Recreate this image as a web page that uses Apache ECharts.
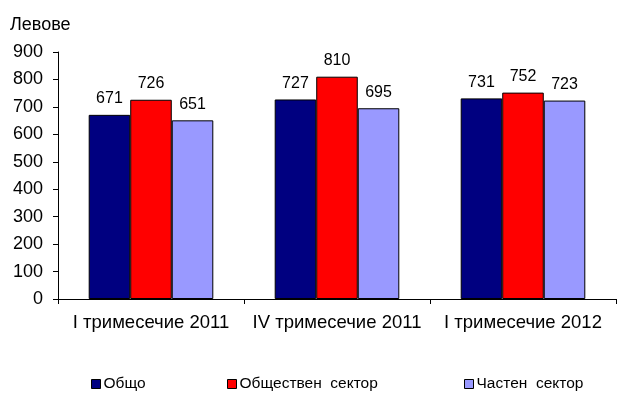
<!DOCTYPE html>
<html><head><meta charset="utf-8">
<script src="https://cdn.jsdelivr.net/npm/echarts@6/dist/echarts.min.js"></script>
<style>html,body{margin:0;padding:0;background:#fff}#c{width:617px;height:393px}</style>
</head><body><div id="c"></div>
<script>
const categories = ['I тримесечие 2011', 'IV тримесечие 2011', 'I тримесечие 2012'];
const seriesNames = ['Общо', 'Обществен  сектор', 'Частен  сектор'];
const total = [671, 727, 731];
const publicSector = [726, 810, 752];
const privateSector = [651, 695, 723];
const yTicks = [0, 100, 200, 300, 400, 500, 600, 700, 800, 900];
const colors = ['#000080', '#FF0000', '#9999FF'];
const F = 'Arial, "Liberation Sans", sans-serif';
const chart = echarts.init(document.getElementById('c'));
const mk = (name, data, color) => ({
  name, type: 'bar', data, barGap: '0%', barCategoryGap: '33%',
  itemStyle: {color, borderColor: '#000', borderWidth: 1},
  label: {show: true, position: 'top', distance: 8, color: '#000', fontSize: 16, fontFamily: F},
  animation: false
});
const legendBase = {
  orient: 'horizontal', top: 371, itemWidth: 9, itemHeight: 9, itemGap: 5,
  icon: 'rect', textStyle: {fontSize: 15.5, fontFamily: F, color: '#000', padding: [0,0,0,-2]},
  itemStyle: {borderColor: '#000', borderWidth: 1}, selectedMode: false
};
chart.setOption({
  animation: false,
  title: {text: 'Левове', left: 5, top: 11, textStyle: {fontSize: 18, fontWeight: 'normal', fontFamily: F, color: '#000'}},
  legend: [
    Object.assign({}, legendBase, {left: 86, data: [seriesNames[0]]}),
    Object.assign({}, legendBase, {left: 222, data: [seriesNames[1]]}),
    Object.assign({}, legendBase, {left: 459, data: [seriesNames[2]]})
  ],
  grid: {left: 58, right: 1, top: 52, bottom: 94, containLabel: false},
  xAxis: {
    type: 'category', data: categories,
    axisLine: {lineStyle: {color: '#000', width: 1}},
    axisTick: {show: true, length: 5, lineStyle: {color: '#000'}},
    axisLabel: {color: '#000', fontSize: 18.5, fontFamily: F, margin: 14, interval: 0}
  },
  yAxis: {
    type: 'value', min: yTicks[0], max: yTicks[yTicks.length - 1], interval: 100,
    axisLine: {show: true, lineStyle: {color: '#000', width: 1}},
    axisTick: {show: true, length: 5, lineStyle: {color: '#000'}},
    splitLine: {show: false},
    axisLabel: {color: '#000', fontSize: 18, fontFamily: F, margin: 15}
  },
  series: [mk(seriesNames[0], total, colors[0]), mk(seriesNames[1], publicSector, colors[1]), mk(seriesNames[2], privateSector, colors[2])]
});
</script></body></html>
